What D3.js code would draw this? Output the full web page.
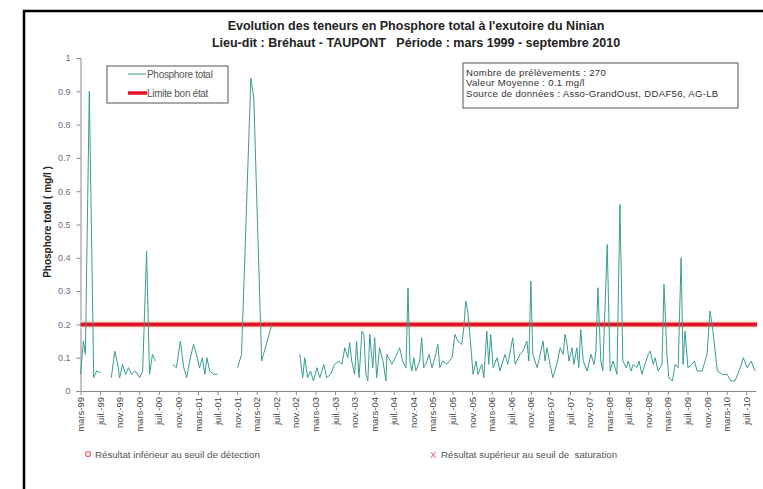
<!DOCTYPE html>
<html><head><meta charset="utf-8">
<script src="https://cdn.jsdelivr.net/npm/d3@7"></script>
<style>
html,body{margin:0;padding:0;background:#fff;}
svg{display:block;font-family:"Liberation Sans",Arial,sans-serif;}
text{white-space:pre;}
</style></head>
<body>
<svg id="chart" width="763" height="489"></svg>
<script>
// ---- DATA ----
const titleLines = ["Evolution des teneurs en Phosphore total à l'exutoire du Ninian",
                    "Lieu-dit : Bréhaut - TAUPONT   Période : mars 1999 - septembre 2010"];
const xTickLabels = ["mars-99","juil.-99","nov.-99","mars-00","juil.-00","nov.-00","mars-01","juil.-01","nov.-01",
  "mars-02","juil.-02","nov.-02","mars-03","juil.-03","nov.-03","mars-04","juil.-04","nov.-04",
  "mars-05","juil.-05","nov.-05","mars-06","juil.-06","nov.-06","mars-07","juil.-07","nov.-07",
  "mars-08","juil.-08","nov.-08","mars-09","juil.-09","nov.-09","mars-10","juil.-10"];
const yTickValues = [0,0.1,0.2,0.3,0.4,0.5,0.6,0.7,0.8,0.9,1];
const yTickLabels = ["0","0.1","0.2","0.3","0.4","0.5","0.6","0.7","0.8","0.9","1"];
const monthDomain = [0, 138]; // months since mars 1999 .. septembre 2010
const limitValue = 0.2;
// sample time (months since mars 1999); null value = gap in the record
const sampleMonths = [
  0.0,0.6,1.0,1.8,2.7,3.3,4.1, 5.0,
  6.3,7.0,7.6,8.0,8.6,9.2,9.8,10.4,11.2,12.1,12.7,13.5,14.1,14.7,15.3, 17.0,
  18.8,19.6,20.4,21.1,21.7,22.3,23.1,23.7,24.3,24.9,25.4,25.8,26.4,27.2,28.0, 30.0,
  32.1,32.9,34.8,35.4,37.0,39.1, 42.0,
  44.8,45.4,45.8,46.4,47.0,47.6,48.3,48.9,49.7,50.3,51.1,51.9,52.8,53.4,54.0,54.6,55.0,55.4,56.0,56.4,
  56.9,57.5,57.9,58.3,58.7,59.1,59.7,60.1,60.5,61.1,61.8,62.4,62.6,63.6,64.6,65.2,65.8,66.5,66.9,67.3,
  67.7,68.1,68.5,69.3,69.7,70.1,70.8,71.2,71.8,72.4,73.0,73.4,74.0,74.8,75.9,76.5,77.1,77.9,78.3,78.7,
  79.1,79.6,80.2,80.8,81.2,82.0,82.4,83.0,83.4,83.8,84.3,85.1,85.7,86.7,87.3,88.3,88.8,89.8,90.4,91.2,
  91.6,92.0,92.4,93.3,93.9,94.5,94.9,95.3,95.9,96.5,97.3,98.0,98.6,99.0,99.4,99.8,100.4,100.8,101.4,
  101.8,102.2,102.7,103.5,104.3,104.9,105.3,105.7,106.3,106.7,107.6,108.2,108.8,109.6,110.2,110.8,
  111.5,111.9,112.5,112.9,113.7,114.1,114.7,115.3,116.0,116.4,117.0,117.4,118.0,118.8,119.2,119.8,
  120.2,120.9,121.5,122.1,122.7,123.1,123.5,124.1,124.9,125.4,126.0,127.0,128.0,128.6,129.2,130.1,
  131.1,132.1,132.9,133.7,134.8,135.4,136.2,137.0,137.8];
const phosphoreTotal = [
  0.05,0.15,0.11,0.90,0.04,0.06,0.055, null,
  0.04,0.12,0.08,0.04,0.08,0.05,0.07,0.05,0.06,0.04,0.06,0.42,0.05,0.11,0.09, null,
  0.08,0.07,0.15,0.07,0.04,0.09,0.14,0.11,0.07,0.10,0.05,0.10,0.06,0.05,0.05, null,
  0.07,0.11,0.94,0.88,0.09,0.20, null,
  0.11,0.04,0.10,0.04,0.06,0.03,0.07,0.04,0.08,0.04,0.05,0.08,0.09,0.08,0.13,0.10,0.145,0.09,0.05,0.15,
  0.04,0.18,0.17,0.05,0.03,0.17,0.07,0.16,0.04,0.13,0.09,0.03,0.11,0.08,0.11,0.13,0.09,0.07,0.31,0.09,
  0.06,0.10,0.06,0.09,0.16,0.07,0.09,0.11,0.07,0.10,0.14,0.07,0.09,0.08,0.10,0.17,0.15,0.14,0.19,0.27,
  0.24,0.16,0.05,0.09,0.05,0.08,0.04,0.18,0.08,0.17,0.07,0.10,0.06,0.11,0.08,0.16,0.08,0.11,0.12,0.15,
  0.09,0.33,0.11,0.07,0.11,0.15,0.09,0.13,0.08,0.04,0.08,0.13,0.11,0.17,0.14,0.09,0.13,0.08,0.13,
  0.07,0.185,0.09,0.06,0.11,0.08,0.12,0.31,0.09,0.06,0.44,0.06,0.09,0.05,0.56,0.09,
  0.07,0.09,0.06,0.08,0.07,0.09,0.05,0.08,0.11,0.12,0.08,0.10,0.06,0.08,0.32,0.11,
  0.04,0.03,0.08,0.07,0.40,0.08,0.18,0.07,0.08,0.09,0.06,0.06,0.11,0.24,0.18,0.06,
  0.05,0.05,0.03,0.03,0.07,0.10,0.07,0.09,0.06];
const legendItems = ["Phosphore total","Limite bon état"];
const infoLines = ["Nombre de prélèvements : 270","Valeur Moyenne : 0.1 mg/l","Source de données : Asso-GrandOust, DDAF56, AG-LB"];
const noteLow = "Résultat inférieur au seuil de détection";
const noteHigh = "Résultat supérieur au seuil de  saturation";
const yTitle = "Phosphore total ( mg/l )";

// ---- DRAW ----
const svg = d3.select("#chart");
const teal = "#3a9e8f", red = "#e3102e";
const plot = {left: 80.5, right: 756, top: 58, bottom: 391};

svg.append("rect").attr("width",763).attr("height",489).attr("fill","#fff");
// frame
svg.append("path").attr("d","M24,489 V11 H763").attr("fill","none").attr("stroke","#000").attr("stroke-width",2.5);

const x = d3.scaleLinear().domain(monthDomain).range([plot.left, plot.right]);
const y = d3.scaleLinear().domain([0,1]).range([plot.bottom, plot.top]);

// title
svg.append("g").selectAll("text").data(titleLines).join("text")
  .attr("x",416).attr("y",(d,i)=>30+i*16.5).attr("text-anchor","middle")
  .attr("font-size",12.5).attr("font-weight","bold").attr("fill","#222").text(d=>d);

// y axis
const yAxis = svg.append("g").attr("transform",`translate(${plot.left},0)`)
  .call(d3.axisLeft(y).tickValues(yTickValues).tickFormat((d,i)=>yTickLabels[i]).tickSize(4).tickPadding(6));
yAxis.select(".domain").attr("stroke","#8a8a8a");
yAxis.selectAll(".tick line").attr("stroke","#8a8a8a");
yAxis.selectAll(".tick text").attr("font-size",9).attr("fill","#76688a").attr("font-family","Liberation Sans, Arial");

// x axis
const xAxis = svg.append("g").attr("transform",`translate(0,${plot.bottom})`)
  .call(d3.axisBottom(x).tickValues(xTickLabels.map((d,i)=>i*4)).tickFormat((d,i)=>xTickLabels[i]).tickSize(4).tickSizeOuter(0));
xAxis.select(".domain").attr("stroke","#8a8a8a");
xAxis.selectAll(".tick line").attr("stroke","#8a8a8a");
xAxis.selectAll(".tick text").attr("font-size",9.5).attr("fill","#444").attr("font-family","Liberation Sans, Arial")
  .attr("transform","rotate(-90)").attr("text-anchor","end").attr("x",-6).attr("y",0).attr("dy","0.32em");

// y title
svg.append("text").attr("transform","translate(51,222) rotate(-90)").attr("text-anchor","middle")
  .attr("font-size",10).attr("font-weight","bold").attr("fill","#222").text(yTitle);

// limit line
svg.append("line").attr("x1",plot.left).attr("x2",plot.right+1).attr("y1",y(limitValue)).attr("y2",y(limitValue))
  .attr("stroke","#fcebd0").attr("stroke-width",8);
svg.append("line").attr("x1",plot.left).attr("x2",plot.right+1).attr("y1",y(limitValue)).attr("y2",y(limitValue))
  .attr("stroke",red).attr("stroke-width",4);

// series
const pts = sampleMonths.map((m,i)=>({m, v: phosphoreTotal[i]}));
const line = d3.line().defined(d=>d.v!==null).x(d=>x(d.m)).y(d=>y(d.v));
svg.append("path").datum(pts).attr("d",line).attr("fill","none").attr("stroke",teal).attr("stroke-width",1).attr("stroke-linejoin","round");

// legend box
const lg = svg.append("g");
lg.append("rect").attr("x",107).attr("y",66).attr("width",121).attr("height",37).attr("fill","#fff").attr("stroke","#555").attr("stroke-width",1);
lg.append("line").attr("x1",128).attr("x2",146).attr("y1",74).attr("y2",74).attr("stroke",teal).attr("stroke-width",1);
lg.append("line").attr("x1",128).attr("x2",147).attr("y1",93).attr("y2",93).attr("stroke",red).attr("stroke-width",3.5);
lg.selectAll("text").data(legendItems).join("text").attr("x",147).attr("y",(d,i)=>77.5+i*19)
  .attr("font-size",10).attr("fill","#555").attr("letter-spacing","-0.3").text(d=>d);

// info box
const ib = svg.append("g");
ib.append("rect").attr("x",463).attr("y",63).attr("width",275).attr("height",45).attr("fill","#fff").attr("stroke","#555").attr("stroke-width",1);
ib.selectAll("text").data(infoLines).join("text").attr("x",466).attr("y",(d,i)=>75.5+i*10.6)
  .attr("font-size",9.6).attr("fill","#333").attr("letter-spacing","0.3").text(d=>d);

// bottom notes
svg.append("circle").attr("cx",88).attr("cy",454).attr("r",2.5).attr("fill","none").attr("stroke","#e0607a").attr("stroke-width",1.2);
svg.append("text").attr("x",95).attr("y",457.5).attr("font-size",9.7).attr("fill","#555").text(noteLow);
svg.append("text").attr("x",430).attr("y",457.5).attr("font-size",9.7).attr("fill","#e0607a").text("X");
svg.append("text").attr("x",441).attr("y",457.5).attr("font-size",9.7).attr("fill","#555").text(noteHigh);
</script>
</body></html>
